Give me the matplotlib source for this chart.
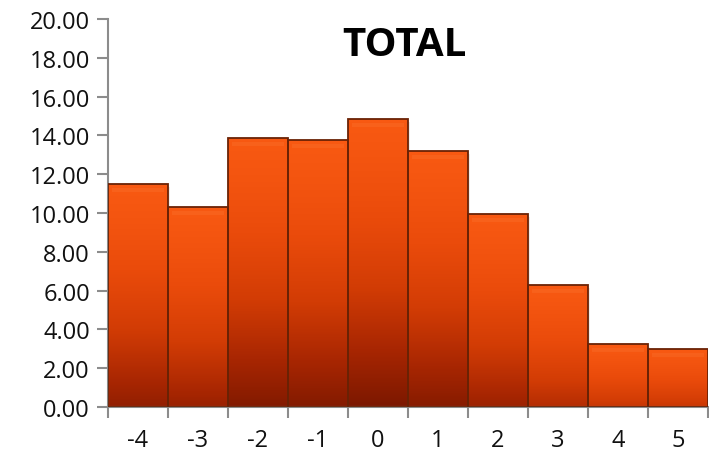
import numpy as np
import matplotlib
matplotlib.use("Agg")
import matplotlib.pyplot as plt
from matplotlib.colors import LinearSegmentedColormap
from matplotlib.patches import Rectangle

categories = ["-4", "-3", "-2", "-1", "0", "1", "2", "3", "4", "5"]
values = [11.49, 10.31, 13.87, 13.76, 14.85, 13.20, 9.95, 6.29, 3.25, 2.99]
y_ticks = [0, 2, 4, 6, 8, 10, 12, 14, 16, 18, 20]
y_labels = [f"{t:.2f}" for t in y_ticks]

plt.rcParams["font.family"] = ["Open Sans", "DejaVu Sans"]

fig = plt.figure(figsize=(7.09, 4.56), dpi=100)
ax = fig.add_axes([108 / 709, 1 - 408 / 456, 600 / 709, 388 / 456])

n = len(values)
ax.set_xlim(-0.5, n - 0.5)
ax.set_ylim(0, 20)

# shading: bright orange at the top, darkening toward the base
cmap = LinearSegmentedColormap.from_list(
    "bar", [(0.0, "#7c1800"), (0.25, "#a82602"), (0.5, "#d23c05"),
            (0.75, "#ea4b0b"), (1.0, "#f85912")])
vmax = max(values)

for i, v in enumerate(values):
    x0, x1 = i - 0.5, i + 0.5
    frac = np.linspace(0, 1, 256)            # 0 at base, 1 at top
    depth = 0.45 + 0.55 * v / vmax            # taller bars reach darker bases
    t = 1 - (1 - frac) ** 1.3 * depth
    img = cmap(t).reshape(-1, 1, 4)
    # soft shadow to the right
    ax.add_patch(Rectangle((x1, 0), 0.04, v - 0.15, facecolor="#000000",
                           alpha=0.07, edgecolor="none", zorder=1))
    im = ax.imshow(img, extent=(x0, x1, 0, v), origin="lower",
                   aspect="auto", zorder=2, interpolation="bilinear")
    im.set_clip_path(Rectangle((x0, 0), 1, v, transform=ax.transData))
    # subtle highlight band near the top
    ax.add_patch(Rectangle((x0 + 0.06, v - 0.42), 0.88, 0.22,
                           facecolor="#ff8a4a", alpha=0.18,
                           edgecolor="none", zorder=3))
    ax.add_patch(Rectangle((x0, 0), 1, v, facecolor="none",
                           edgecolor="#6a2205", linewidth=1.3, zorder=4))

ax.set_yticks(y_ticks)
ax.set_yticklabels(y_labels)
ax.set_xticks(range(n))
ax.set_xticklabels(categories)
ax.set_xticks(np.arange(-0.5, n, 1.0), minor=True)

ax.tick_params(axis="y", direction="out", length=8, width=1.5,
               color="#8c8c8c", labelsize=17, pad=5, labelcolor="#111111")
ax.tick_params(axis="x", which="major", length=0, labelsize=17, pad=15,
               labelcolor="#111111")
ax.tick_params(axis="x", which="minor", direction="out", length=8, width=1.5,
               color="#8c8c8c")

for s in ["top", "right"]:
    ax.spines[s].set_visible(False)
for s in ["left", "bottom"]:
    ax.spines[s].set_color("#8c8c8c")
    ax.spines[s].set_linewidth(1.5)

fig.text(404 / 709, 1 - 45 / 456, "TOTAL", ha="center", va="center",
         fontsize=29, fontweight="bold", color="#000000")

fig.savefig("out.png", dpi=100)
